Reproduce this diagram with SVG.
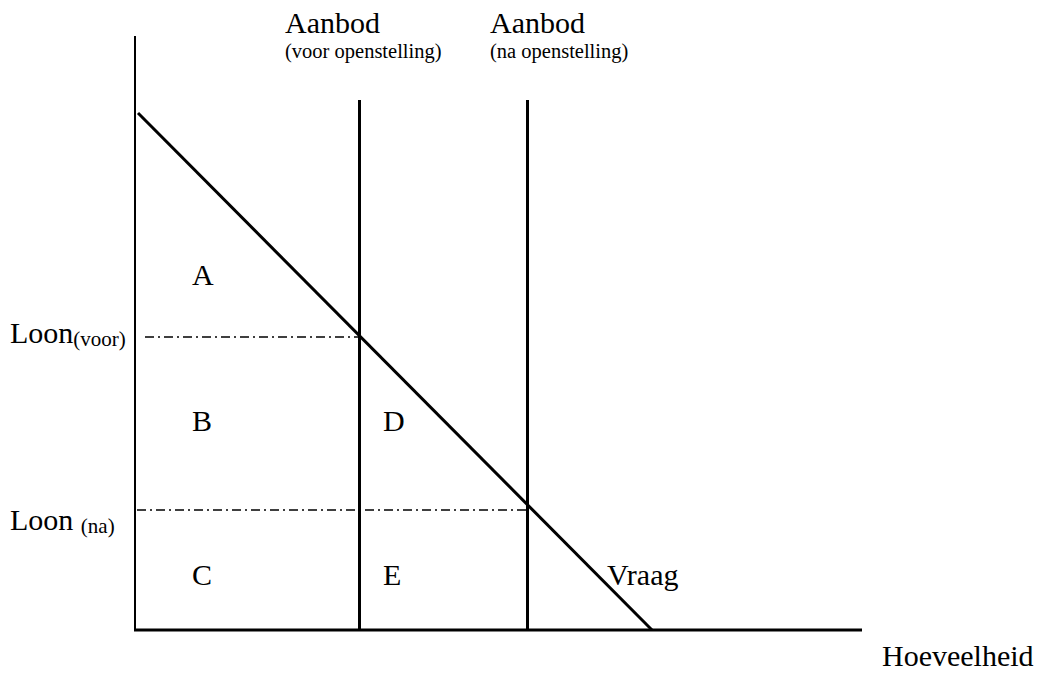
<svg xmlns="http://www.w3.org/2000/svg" width="1046" height="675" viewBox="0 0 1046 675">
<style>
text{font-family:"Liberation Serif","Times New Roman",serif;fill:#000}
.big{font-size:30px}
.lab{font-size:30px}
.sm{font-size:20.5px}
.sub{font-size:21px}
.ln{stroke:#000;fill:none}
.dd{stroke:#000;stroke-width:1.3;stroke-dasharray:9,4,2,4;fill:none}
</style>
<rect width="1046" height="675" fill="#fff"/>
<g id="connectors">
<line class="ln" x1="135" y1="36" x2="135" y2="631" stroke-width="2"/>
<line class="ln" x1="134" y1="630" x2="862" y2="630" stroke-width="3"/>
<line class="ln" x1="138" y1="113" x2="652" y2="630" stroke-width="3"/>
<line class="ln" x1="359.5" y1="100" x2="359.5" y2="630" stroke-width="3"/>
<line class="ln" x1="527.5" y1="100" x2="527.5" y2="630" stroke-width="3"/>
<line class="dd" x1="145" y1="337" x2="359" y2="337"/>
<line class="dd" x1="137" y1="510" x2="527" y2="510"/>
</g>
<g id="aanbod1"><text x="285" y="33" class="big">Aanbod</text><text x="285" y="58" class="sm">(voor openstelling)</text></g>
<g id="aanbod2"><text x="490" y="33" class="big">Aanbod</text><text x="490" y="58" class="sm">(na openstelling)</text></g>
<g id="loonvoor"><text x="10" y="343" class="lab">Loon<tspan class="sub" dy="3">(voor)</tspan></text></g>
<g id="loonna"><text x="10" y="530" class="lab">Loon <tspan class="sub" dy="3">(na)</tspan></text></g>
<g id="A"><text x="192" y="285" class="lab">A</text></g>
<g id="B"><text x="192" y="431" class="lab">B</text></g>
<g id="C"><text x="192" y="585" class="lab">C</text></g>
<g id="D"><text x="383" y="431" class="lab">D</text></g>
<g id="E"><text x="383" y="585" class="lab">E</text></g>
<g id="vraag"><text x="607" y="585" class="lab">Vraag</text></g>
<g id="hoeveelheid"><text x="882" y="666" class="lab">Hoeveelheid</text></g>
</svg>
